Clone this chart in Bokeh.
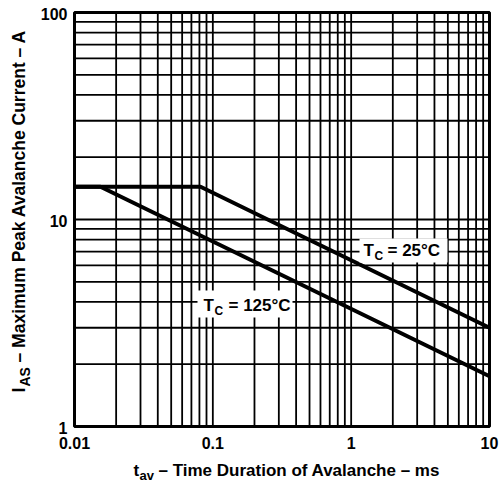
import math
from bokeh.plotting import figure
from bokeh.models import Label, BoxAnnotation
from bokeh.core.properties import value
from bokeh.embed import file_html
from bokeh.resources import INLINE

# ---- data ----
t_25 = [0.01, 0.0815, 10.0]      # ms
i_25 = [14.4, 14.4, 3.0]         # A
t_125 = [0.01, 0.0154, 10.0]     # ms
i_125 = [14.4, 14.4, 1.75]       # A

x_ticks = [0.01, 0.1, 1, 10]
x_tick_labels = ["0.01", "0.1", "1", "10"]
y_ticks = [1, 10, 100]
y_tick_labels = ["1", "10", "100"]
multipliers = [1, 2, 3, 4, 5, 6, 7, 8, 9]
x_decades = [0.01, 0.1, 1]
y_decades = [1, 10]

x_grid = [m * d for d in x_decades for m in multipliers] + [x_ticks[-1]]
y_grid = [m * d for d in y_decades for m in multipliers] + [y_ticks[-1]]

FONT = "Liberation Sans"

# ---- layout (canvas pixels) ----
W, H = 500, 482
FL, FR, FT, FB = 74, 489, 12, 426   # plot box edges on the canvas
SH = 0.35                           # baseline correction (em)

lx0, lx1 = math.log10(x_ticks[0]), math.log10(x_ticks[-1])
ly0, ly1 = math.log10(y_ticks[0]), math.log10(y_ticks[-1])
ppx = (FR - FL) / (lx1 - lx0)
ppy = (FB - FT) / (ly1 - ly0)
x_range = (10 ** (lx0 - FL / ppx), 10 ** (lx1 + (W - FR) / ppx))
y_range = (10 ** (ly0 - (H - FB) / ppy), 10 ** (ly1 + FT / ppy))

p = figure(width=W, height=H, x_axis_type="log", y_axis_type="log",
           x_range=x_range, y_range=y_range,
           x_axis_location=None, y_axis_location=None,
           output_backend="svg", toolbar_location=None, min_border=0)
p.grid.visible = False
p.outline_line_color = None
p.background_fill_color = "white"
p.border_fill_color = "white"

# grid lines
nx, ny = len(x_grid), len(y_grid)
p.segment(x0=x_grid, y0=[y_ticks[0]] * nx, x1=x_grid, y1=[y_ticks[-1]] * nx,
          line_color="black", line_width=1.8)
p.segment(x0=[x_ticks[0]] * ny, y0=y_grid, x1=[x_ticks[-1]] * ny, y1=y_grid,
          line_color="black", line_width=1.8)
# plot box
p.quad(left=[x_ticks[0]], right=[x_ticks[-1]], bottom=[y_ticks[0]], top=[y_ticks[-1]],
       fill_color=None, line_color="black", line_width=3)

# tick labels
p.text(x=x_ticks, y=[y_ticks[0]] * len(x_ticks), text=x_tick_labels,
       text_font=value(FONT), text_font_style="bold", text_font_size="16px",
       text_align="center", text_baseline="alphabetic", y_offset=22 - 16 * SH,
       text_color="black")
p.text(x=[x_ticks[0]] * len(y_ticks), y=y_ticks, text=y_tick_labels,
       text_font=value(FONT), text_font_style="bold", text_font_size="16px",
       text_align="right", text_baseline="alphabetic", x_offset=-7, y_offset=7 - 16 * SH,
       text_color="black")

# data lines
p.line(t_25, i_25, line_color="black", line_width=4)
p.line(t_125, i_125, line_color="black", line_width=4)


def lab(text, x, y_page, size, angle=0.0):
    px = float(size.replace("px", ""))
    if angle == 0.0:
        y_page = y_page - px * SH
    else:
        x = x - px * SH
    p.add_layout(Label(x=x, y=H - y_page, x_units="screen", y_units="screen", text=text,
                       text_font=FONT, text_font_style="bold",
                       text_font_size=size, text_color="black",
                       text_align="left", text_baseline="alphabetic",
                       angle=angle))


def box(l, r, t, b):
    p.add_layout(BoxAnnotation(left=l, right=r, bottom=H - b, top=H - t,
                               left_units="screen", right_units="screen",
                               bottom_units="screen", top_units="screen",
                               fill_color="white", fill_alpha=1.0, line_color=None))


# curve labels with white boxes
box(359, 447, 238, 262)
lab("T", 363, 256, "17px")
lab("C", 374, 260, "12px")
lab("= 25°C", 387, 256, "17px")

box(197, 292, 290, 317)
lab("T", 203, 311, "17px")
lab("C", 214, 315, "12px")
lab("= 125°C", 228, 311, "17px")

# axis titles
lab("t", 133, 476, "17px")
lab("av", 139, 480, "13px")
lab("– Time Duration of Avalanche – ms", 158, 476, "17px")

lab("I", 25, 392, "17.5px", math.pi / 2)
lab("AS", 29, 386, "14px", math.pi / 2)
lab("– Maximum Peak Avalanche Current – A", 25, 362, "17.5px", math.pi / 2)

open("out.html", "w").write(file_html(p, INLINE))
